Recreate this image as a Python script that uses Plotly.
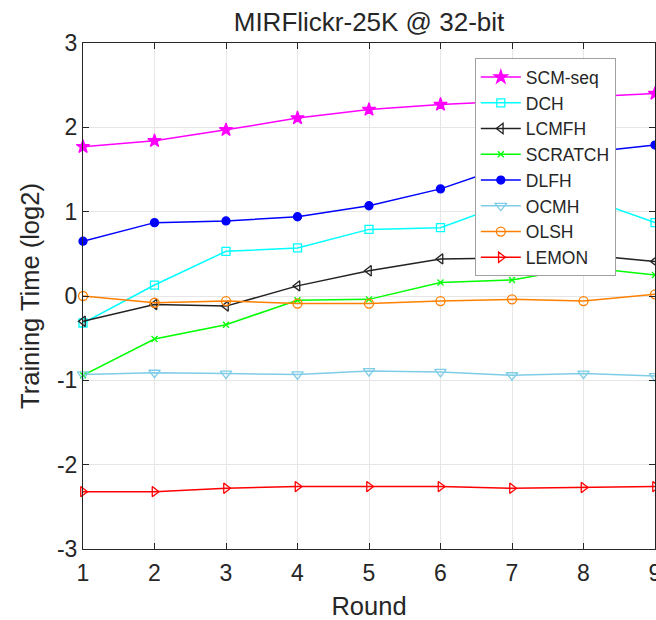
import plotly.graph_objects as go

rounds = [1, 2, 3, 4, 5, 6, 7, 8, 9]
scm_seq = [1.77, 1.84, 1.97, 2.11, 2.21, 2.27, 2.31, 2.36, 2.40]
dch = [-0.32, 0.13, 0.53, 0.57, 0.79, 0.81, 1.12, 1.17, 0.87]
lcmfh = [-0.30, -0.10, -0.12, 0.12, 0.30, 0.44, 0.45, 0.49, 0.41]
scratch = [-0.94, -0.51, -0.34, -0.05, -0.04, 0.16, 0.19, 0.34, 0.25]
dlfh = [0.65, 0.87, 0.89, 0.94, 1.07, 1.27, 1.56, 1.70, 1.79]
ocmh = [-0.93, -0.91, -0.92, -0.93, -0.89, -0.90, -0.94, -0.92, -0.95]
olsh = [0.00, -0.08, -0.06, -0.09, -0.09, -0.06, -0.04, -0.06, 0.02]
lemon = [-2.32, -2.32, -2.28, -2.26, -2.26, -2.26, -2.28, -2.27, -2.26]

y_ticks = [-3, -2, -1, 0, 1, 2, 3]
y_ticktext = ["-3", "-2", "-1", "0", "1", "2", "3"]

series = [
    ("SCM-seq", scm_seq, "#FF00FF", "star", 10),
    ("DCH", dch, "#00FFFF", "square-open", 8),
    ("LCMFH", lcmfh, "#222222", "triangle-left-open", 9),
    ("SCRATCH", scratch, "#00FF00", "x-thin-open", 6),
    ("DLFH", dlfh, "#0000FF", "circle", 8),
    ("OCMH", ocmh, "#7FCCE6", "triangle-down-open", 10),
    ("OLSH", olsh, "#FF8000", "circle-open", 9),
    ("LEMON", lemon, "#FF0000", "triangle-right-open", 9),
]

fig = go.Figure()
for name, vals, color, sym, sz in series:
    fig.add_trace(go.Scatter(
        x=rounds, y=vals, name=name, mode="lines+markers",
        line=dict(color=color, width=1.5),
        marker=dict(symbol=sym, size=sz, color=color,
                    line=dict(color=color, width=1.3)),
        cliponaxis=False,
    ))

axis_common = dict(
    showgrid=True, gridcolor="#E6E6E6", gridwidth=1,
    showline=True, linecolor="#262626", linewidth=1,
    ticks="inside", ticklen=6, tickcolor="#262626", mirror="ticks",
    tickfont=dict(size=23, color="#262626"),
    zeroline=False, ticklabeloverflow="allow", automargin=False,
)

fig.update_layout(
    width=656, height=620,
    margin=dict(l=83, r=1, t=43, b=71),
    paper_bgcolor="white", plot_bgcolor="white",
    font=dict(family="Liberation Sans, Arial, sans-serif", color="#262626"),
    title=dict(text="MIRFlickr-25K @ 32-bit", x=0.5625, xanchor="center",
               y=0.9645, yanchor="middle", font=dict(size=26, color="#262626")),
    xaxis=dict(range=[1, 9], tickvals=rounds, ticklabelstandoff=3,
               title=dict(text="Round", font=dict(size=25.5), standoff=12), **axis_common),
    yaxis=dict(range=[-3, 3], tickvals=y_ticks, ticktext=y_ticktext,
               title=dict(text="Training Time (log2)", font=dict(size=25.5), standoff=10), **axis_common),
    legend=dict(x=0.685, y=0.97, xanchor="left", yanchor="top",
                bgcolor="white", bordercolor="#A0A0A0", borderwidth=1,
                font=dict(size=17.5, color="#262626"), tracegroupgap=0,
                itemwidth=40),
    showlegend=True,
)

fig.write_html("out.html")
